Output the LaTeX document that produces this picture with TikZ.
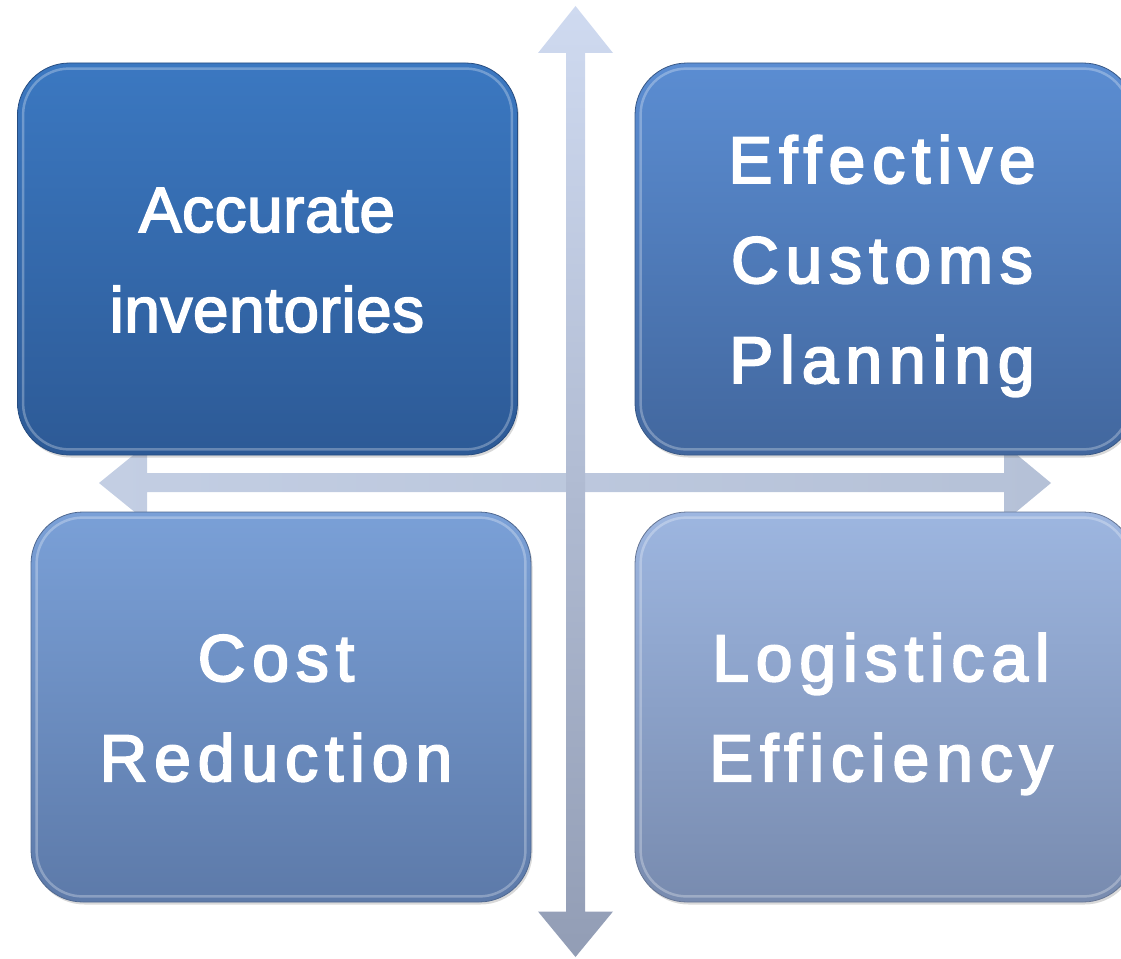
\documentclass[tikz,border=0pt]{standalone}
\usepackage{fontspec}
\setmainfont{Liberation Sans}
\newfontfamily\plainbox[FakeBold=2.5,LetterSpace=0.8]{Liberation Sans}
\newfontfamily\spacedfont[LetterSpace=10.5,FakeBold=3]{Liberation Sans}
\usetikzlibrary{shadows}
\definecolor{tlTop}{HTML}{3B78C1}
\definecolor{tlBot}{HTML}{2D5A96}
\definecolor{trTop}{HTML}{5B8DD2}
\definecolor{trBot}{HTML}{42679E}
\definecolor{blTop}{HTML}{7AA0D7}
\definecolor{blBot}{HTML}{5D7AA9}
\definecolor{brTop}{HTML}{9DB6E0}
\definecolor{brBot}{HTML}{788BAF}
\definecolor{arTop}{HTML}{CFDAF0}
\definecolor{arBot}{HTML}{929DB5}
\definecolor{arLeft}{HTML}{C3CEE3}
\definecolor{arRight}{HTML}{B5C1D7}
\begin{document}
\begin{tikzpicture}[x=1pt,y=-1pt,
  quad/.style={rounded corners=52pt, minimum width=500pt, minimum height=392pt,
    inner sep=0pt, line width=0.8pt,
    drop shadow={shadow xshift=1.5pt, shadow yshift=-2.5pt, opacity=0.3}},
  bevel/.style={draw=white, draw opacity=0.28, line width=2.5pt, rounded corners=46pt},
  lbl/.style={text=white, anchor=base, inner sep=0pt},
  plainfont/.style={font=\plainbox\fontsize{64}{100}\selectfont},
  widefont/.style={font=\spacedfont\fontsize{66}{100}\selectfont}]
\useasboundingbox (0,0) rectangle (1121,958);
% horizontal double arrow
\coordinate (hl) at (99,483);
\coordinate (hr) at (1051,483);
\shade[left color=arLeft, right color=arRight]
  (hl) -- (147,444) -- (147,473) -- (1004,473) -- (1004,444) -- (hr)
  -- (1004,522) -- (1004,492) -- (147,492) -- (147,522) -- cycle;
% vertical double arrow
\coordinate (vt) at (575.5,6);
\coordinate (vb) at (575.5,957);
\shade[top color=arTop, bottom color=arBot]
  (vt) -- (613,53) -- (585,53) -- (585,911.5) -- (613,911.5) -- (vb)
  -- (538,911.5) -- (566,911.5) -- (566,53) -- (538,53) -- cycle;
% boxes
\node[quad, draw=tlBot!85!black, top color=tlTop, bottom color=tlBot, minimum height=392pt] (tl) at (267.5,259) {};
\node[quad, draw=trBot!85!black, top color=trTop, bottom color=trBot, minimum height=392pt] (tr) at (885,259) {};
\node[quad, draw=blBot!85!black, top color=blTop, bottom color=blBot, minimum height=390pt] (bl) at (281,707) {};
\node[quad, draw=brBot!85!black, top color=brTop, bottom color=brBot, minimum height=390pt] (br) at (885,707) {};
\foreach \b in {tl,tr,bl,br}{
  \draw[bevel] ([shift={(6,6)}]\b.north west) rectangle ([shift={(-6,-6)}]\b.south east);
}
% labels
\node[lbl, plainfont] (tla) at (267,232) {Accurate};
\node[lbl, plainfont] (tlb) at (267,332) {inventories};
\node[lbl, widefont] (tra) at (882,183) {Effective};
\node[lbl, widefont] (trb) at (882,283) {Customs};
\node[lbl, widefont] (trc) at (882,383) {Planning};
\node[lbl, widefont] (bla) at (276,681) {Cost};
\node[lbl, widefont] (blb) at (276,781) {Reduction};
\node[lbl, widefont] (bra) at (881,681) {Logistical};
\node[lbl, widefont] (brb) at (881,781) {Efficiency};
\end{tikzpicture}
\end{document}
